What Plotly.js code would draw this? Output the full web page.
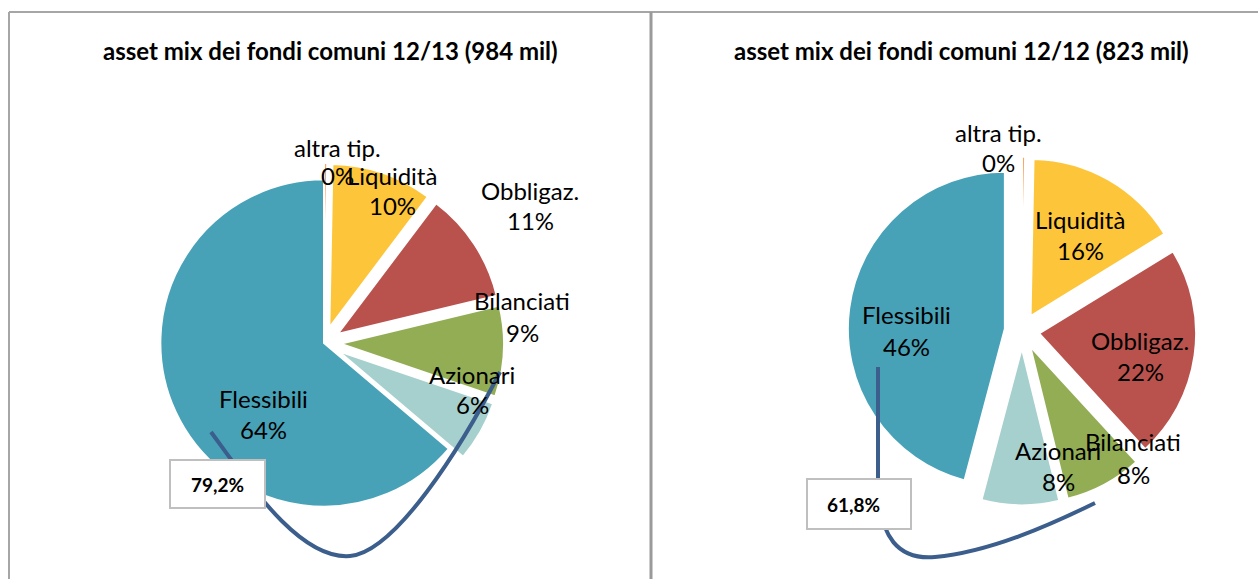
<!DOCTYPE html>
<html>
<head>
<meta charset="utf-8">
<script src="https://cdn.plot.ly/plotly-3.0.1.min.js"></script>
<style>
  html, body { margin: 0; padding: 0; background: #fff; }
  #chart { width: 1258px; height: 579px; }
</style>
</head>
<body>
<div id="chart"></div>
<script>
// data (percent of total)
let categories = ['altra tip.', 'Liquidità', 'Obbligaz.', 'Bilanciati', 'Azionari', 'Flessibili']
let mix2013 = [0.3, 10, 11, 9, 6, 64]
let mix2012 = [0.3, 16, 22, 8, 8, 46]
let titles = ['asset mix dei fondi comuni 12/13 (984 mil)', 'asset mix dei fondi comuni 12/12 (823 mil)']
let boxLabels = ['79,2%', '61,8%']

let colors = ['#F79646', '#FDC53A', '#B9524D', '#93AD55', '#A6D0CD', '#47A2B8']

// layout helpers (pixels -> paper)
const W = 1258, H = 579
const px = x => x / W
const py = y => 1 - y / H

// label anchor points [x, name line y, percent line y] in pixels
let labelPos2013 = [[337, 147, 175], [392, 175, 205], [530, 190, 220], [522, 300, 332], [472, 374, 404], [263, 398, 429]]
let labelPos2012 = [[998, 132, 162], [1080, 219, 250], [1140, 340, 371], [1133, 441, 474], [1058, 450, 481], [906, 314, 346]]

const font = 'Lato, "Open Sans", sans-serif'

function pie(values, domainPx, pull) {
    return {
        type: 'pie',
        labels: categories,
        values: values,
        sort: false,
        direction: 'clockwise',
        rotation: 0,
        pull: pull,
        textinfo: 'none',
        hoverinfo: 'label+percent',
        showlegend: false,
        marker: { colors: colors, line: { color: '#FFFFFF', width: 2 } },
        domain: { x: [px(domainPx[0]), px(domainPx[1])], y: [py(domainPx[3]), py(domainPx[2])] }
    }
}

let data = [
    pie(mix2013, [144, 504, 163, 523], [0.1, 0.1, 0.1, 0.1, 0.1, 0]),
    pie(mix2012, [847.7, 1196.3, 156.7, 505.3], [0.11, 0.11, 0.11, 0.11, 0.11, 0.11])
]

let annotations = []
function note(x, y, text, size) {
    annotations.push({
        xref: 'paper', yref: 'paper', x: px(x), y: py(y), xanchor: 'center', yanchor: 'middle',
        text: text, showarrow: false, font: { family: font, size: size, color: '#000' }
    })
}
function addLabels(values, pos) {
    let total = values.reduce((a, b) => a + b, 0)
    values.forEach((v, i) => {
        let p = pos[i]
        note(p[0], p[1], categories[i], 24)
        note(p[0], p[2], Math.round(v / total * 100) + '%', 24)
    })
}
addLabels(mix2013, labelPos2013)
addLabels(mix2012, labelPos2012)

note(330, 50, '<b>' + titles[0] + '</b>', 24)
note(961, 50, '<b>' + titles[1] + '</b>', 24)
note(217, 484, '<b>' + boxLabels[0] + '</b>', 19)
note(853, 504, '<b>' + boxLabels[1] + '</b>', 19)

// path in pixels -> paper path
function pathPx(cmds) {
    return cmds.map(c => typeof c === 'string' ? c : px(c[0]) + ',' + py(c[1])).join(' ')
}

let frame = { color: '#A6A6A6', width: 2 }
let shapes = [
    { type: 'line', xref: 'paper', yref: 'paper', x0: px(9), x1: px(1258), y0: py(12), y1: py(12), line: frame },
    { type: 'line', xref: 'paper', yref: 'paper', x0: px(9), x1: px(9), y0: py(12), y1: py(579), line: frame },
    { type: 'line', xref: 'paper', yref: 'paper', x0: px(651), x1: px(651), y0: py(12), y1: py(579), line: { color: '#9A9A9A', width: 3 } },
    {
        type: 'path', xref: 'paper', yref: 'paper', layer: 'above',
        path: pathPx(['M', [211, 432], 'C', [250, 485], [300, 560], [350, 556], 'C', [395, 552], [460, 450], [500, 372]]),
        line: { color: '#3B5E8C', width: 4 }
    },
    {
        type: 'path', xref: 'paper', yref: 'paper', layer: 'above',
        path: pathPx(['M', [878, 367], 'L', [878, 480], 'C', [878, 540], [900, 560], [935, 557], 'C', [990, 552], [1050, 525], [1095, 503]]),
        line: { color: '#3B5E8C', width: 4 }
    },
    { type: 'rect', xref: 'paper', yref: 'paper', layer: 'above', x0: px(170), x1: px(265), y0: py(460), y1: py(508), fillcolor: '#FFFFFF', line: { color: '#BFBFBF', width: 2 } },
    { type: 'rect', xref: 'paper', yref: 'paper', layer: 'above', x0: px(807), x1: px(911), y0: py(479), y1: py(529), fillcolor: '#FFFFFF', line: { color: '#BFBFBF', width: 2 } }
]

Plotly.newPlot('chart', data, {
    width: W,
    height: H,
    margin: { l: 0, r: 0, t: 0, b: 0 },
    paper_bgcolor: '#FFFFFF',
    font: { family: font },
    annotations: annotations,
    shapes: shapes
}, { displayModeBar: false, staticPlot: true })
</script>
</body>
</html>
